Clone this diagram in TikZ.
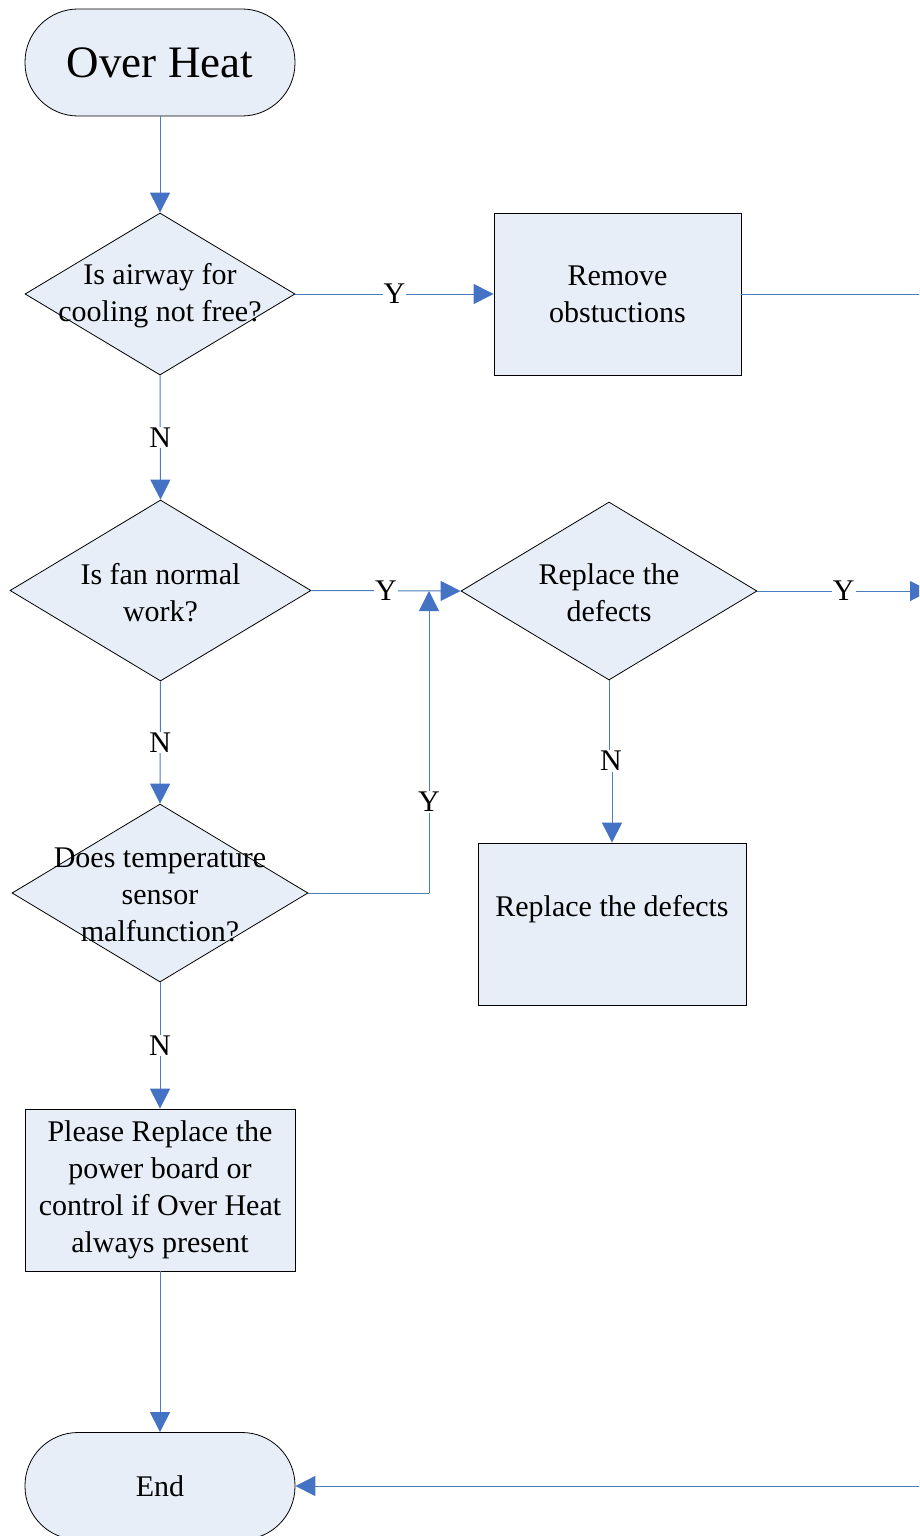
\documentclass[tikz,border=0pt]{standalone}
\usepackage{fontspec}
\setmainfont{Liberation Serif}
\usetikzlibrary{shapes.geometric,arrows.meta}

\definecolor{shapefill}{RGB}{232,238,247}
\definecolor{flowline}{RGB}{74,126,187}
\definecolor{flowhead}{RGB}{68,114,196}

\tikzset{
  body/.style={font=\fontsize{30}{37}\selectfont},
  base/.style={draw=black, line width=0.8pt, fill=shapefill, inner sep=0pt, body, align=center},
  terminal/.style={base, rectangle, rounded corners=53pt, minimum width=270pt, minimum height=107pt},
  process/.style={base, rectangle, minimum width=247pt, minimum height=162pt},
  decision/.style={base, diamond, text=black},
  qtext/.style={body, align=center, inner sep=0pt, yshift=-2pt},
  arr/.style={draw=flowline, line width=1pt,
    -{Triangle[length=20pt,width=20pt,fill=flowhead,color=flowhead]}},
  link/.style={draw=flowline, line width=1pt},
  yn/.style={body, fill=white, inner sep=1pt},
}

\begin{document}
\begin{tikzpicture}[x=1pt,y=-1pt]
\useasboundingbox (0,0) rectangle (919,1536);
\clip (0,0) rectangle (919,1536);

% start and end terminals
\node[terminal, font=\fontsize{45}{54}\selectfont] (start) at (160,62.5) {Over Heat};
\node[terminal] (finish) at (160,1486) {End};

% decisions
\node[decision, minimum width=270pt, minimum height=162pt,
  label={[qtext]center:Is airway for\\cooling not free?}] (d1) at (160,294) {};
\node[decision, minimum width=301pt, minimum height=181pt,
  label={[qtext]center:Is fan normal\\work?}] (d2) at (160.5,590.5) {};
\node[decision, minimum width=296pt, minimum height=178pt,
  label={[qtext]center:Replace the\\defects}] (d3) at (609,591) {};
\node[decision, minimum width=296pt, minimum height=178pt,
  label={[qtext]center:Does temperature\\sensor\\malfunction?}] (d4) at (160,893) {};

% actions
\node[process] (clear) at (617.5,294) {Remove\\obstuctions};
\node[process, minimum width=268pt] (fix) at (612,924) {Replace the defects\\\mbox{}};
\node[process, minimum width=270pt] (board) at (160,1190) {\raisebox{-2pt}{}Please Replace the\\power board or\\control if Over Heat\\always present};

% helper points for the routed connectors
\coordinate (outA) at (960,294);
\coordinate (outB) at (930,591);
\coordinate (bend) at (429,893);
\coordinate (join) at (429,591);

% connectors
\draw[arr] (start.south) -- (d1.north);
\draw[arr] (d1.east) -- node[yn] (y1) {Y} (clear.west);
\draw[arr] (d1.south) -- node[yn] (n1) {N} (d2.north);
\draw[arr] (d2.east) -- node[yn] (y2) {Y} (d3.west);
\draw[arr] (d2.south) -- node[yn] (n2) {N} (d4.north);
\draw[arr] (d3.east) -- node[yn] (y3) {Y} (outB);
\node[yn] (n3) at (611,761) {N};
\draw[link] (d3.south) -- (d3.south |- n3.north);
\draw[arr] (fix.north |- n3.south) -- (fix.north);
\draw[link] (d4.east) -- (bend);
\draw[arr] (bend) -- (join);
\node[yn] (y4) at (429,802) {Y};
\draw[arr] (d4.south) -- node[yn] (n4) {N} (board.north);
\draw[arr] (board.south) -- (finish.north);
\draw[arr] (clear.east) -- (outA) |- (finish.east);
\end{tikzpicture}
\end{document}
